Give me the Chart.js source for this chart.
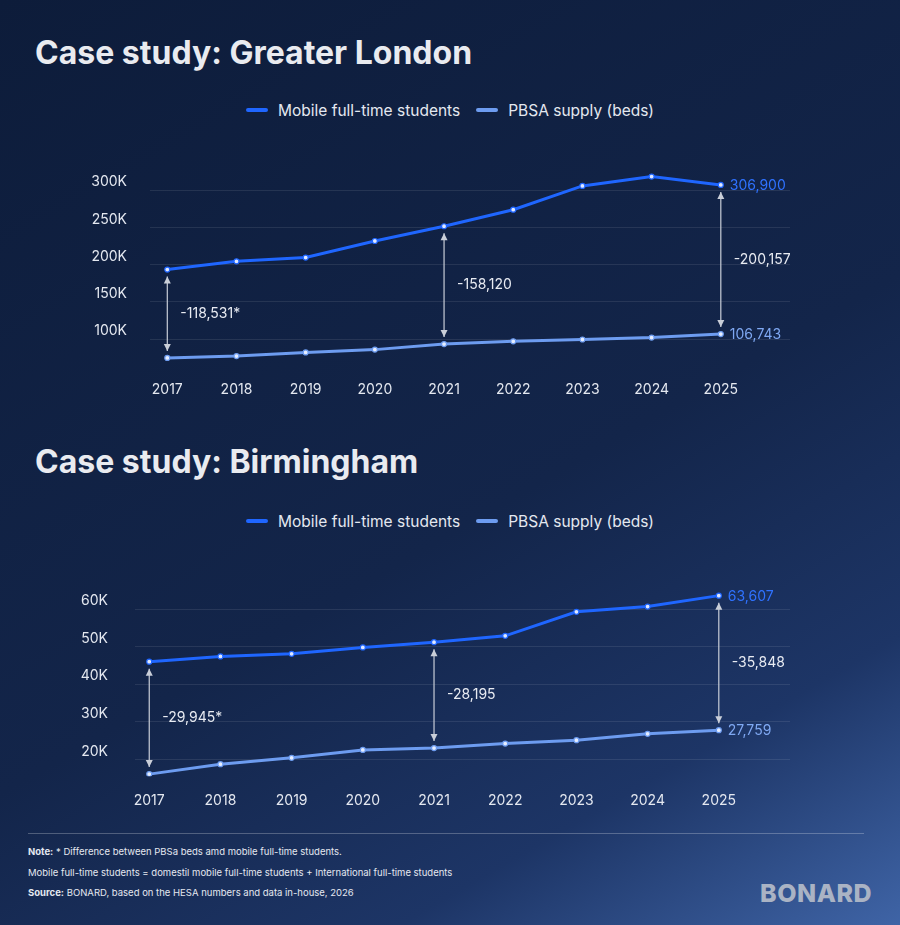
<!DOCTYPE html>
<html>
<head>
<meta charset="utf-8">
<script src="https://cdn.jsdelivr.net/npm/chart.js@4"></script>
<style>
  body { margin:0; width:900px; height:925px; overflow:hidden; font-family:Inter, sans-serif;
    background: linear-gradient(150deg, #0d1c3a 0%, #13254a 55%, #1d3566 80%, #3f64a6 100%); position:relative; color:#e8ebf2; }
  .title { position:absolute; left:35px; font-size:32px; font-weight:700; color:#e9ebf0; }
  .legend { position:absolute; left:0; width:900px; text-align:center; font-size:15.5px; color:#e4e8f0; }
  .legend span { display:inline-block; margin:0 8px; }
  .legend i { display:inline-block; width:22px; height:4px; border-radius:2px; vertical-align:middle; margin-right:10px; position:relative; top:-2px; }
  .box { position:absolute; left:0; width:900px; }
  .note { position:absolute; left:28px; font-size:9.5px; color:#e4e8f0; }
  hr { position:absolute; left:28px; width:836px; top:833px; border:0; border-top:1px solid rgba(255,255,255,0.25); margin:0; }
</style>
</head>
<body>
<div class="title" style="top:33px">Case study: Greater London</div>
<div class="legend" style="top:101px"><span><i style="background:#1f66ff"></i>Mobile full-time students</span><span><i style="background:#6d9cf0"></i>PBSA supply (beds)</span></div>
<div class="box" style="top:140px;height:270px"><canvas id="london"></canvas></div>

<div class="title" style="top:442px">Case study: Birmingham</div>
<div class="legend" style="top:512px"><span><i style="background:#1f66ff"></i>Mobile full-time students</span><span><i style="background:#6d9cf0"></i>PBSA supply (beds)</span></div>
<div class="box" style="top:555px;height:266px"><canvas id="birmingham"></canvas></div>

<hr>
<div class="note" style="top:846px"><b>Note:</b> * Difference between PBSa beds amd mobile full-time students.</div>
<div class="note" style="top:867px">Mobile full-time students = domestil mobile full-time students + International full-time students</div>
<div class="note" style="top:887px"><b>Source:</b> BONARD, based on the HESA numbers and data in-house, 2026</div>
<div style="position:absolute;right:28px;top:878px;font-size:25px;font-weight:800;color:#aab3c4;letter-spacing:0.5px">BONARD</div>

<script>
var years = [2017, 2018, 2019, 2020, 2021, 2022, 2023, 2024, 2025];

var londonStudents = [193331, 204400, 209400, 231600, 251400, 273600, 305500, 318000, 306900];
var londonBeds = [74800, 77300, 82200, 85900, 93300, 97000, 99500, 102000, 106743];
var londonTicks = [100000, 150000, 200000, 250000, 300000];
var londonGapYears = [2017, 2021, 2025];
var londonGapLabels = ['-118,531*', '-158,120', '-200,157'];
var londonEndLabels = ['306,900', '106,743'];

var brumStudents = [46000, 47400, 48100, 49800, 51200, 52900, 59300, 60700, 63607];
var brumBeds = [16055, 18700, 20400, 22500, 23005, 24200, 25100, 26800, 27759];
var brumTicks = [20000, 30000, 40000, 50000, 60000];
var brumGapYears = [2017, 2021, 2025];
var brumGapLabels = ['-29,945*', '-28,195', '-35,848'];
var brumEndLabels = ['63,607', '27,759'];

var BLUE = '#1f66ff';
var LIGHT = '#6d9cf0';

function pts(vals) {
  return vals.map(function(v, i) { return {x: years[i], y: v}; });
}

function annotate(gapYears, gapLabels, endLabels) {
  return {
    id: 'annot',
    afterDatasetsDraw: function(chart) {
      var ctx = chart.ctx, xs = chart.scales.x, ys = chart.scales.y;
      var top = chart.data.datasets[0].data, bot = chart.data.datasets[1].data;
      ctx.save();
      ctx.font = '14px Inter';
      ctx.textBaseline = 'middle';
      gapYears.forEach(function(yr, k) {
        var i = years.indexOf(yr);
        var x = xs.getPixelForValue(yr);
        var y1 = ys.getPixelForValue(top[i].y) + 7;
        var y2 = ys.getPixelForValue(bot[i].y) - 7;
        ctx.strokeStyle = '#c9ced8';
        ctx.fillStyle = '#c9ced8';
        ctx.lineWidth = 1.2;
        ctx.beginPath(); ctx.moveTo(x, y1); ctx.lineTo(x, y2); ctx.stroke();
        ctx.beginPath(); ctx.moveTo(x, y1); ctx.lineTo(x - 3.5, y1 + 7); ctx.lineTo(x + 3.5, y1 + 7); ctx.fill();
        ctx.beginPath(); ctx.moveTo(x, y2); ctx.lineTo(x - 3.5, y2 - 7); ctx.lineTo(x + 3.5, y2 - 7); ctx.fill();
        ctx.fillStyle = '#e8ebf2';
        ctx.fillText(gapLabels[k], x + 13, (y1 + y2) / 2);
      });
      var last = years.length - 1;
      var xl = xs.getPixelForValue(years[last]) + 9;
      ctx.fillStyle = '#2f72ff';
      ctx.fillText(endLabels[0], xl, ys.getPixelForValue(top[last].y) + 1);
      ctx.fillStyle = '#7fa8f2';
      ctx.fillText(endLabels[1], xl, ys.getPixelForValue(bot[last].y) + 1);
      ctx.restore();
    }
  };
}

function makeChart(id, students, beds, xmin, yMin, yMax, tickVals, axisW, pad, gapYears, gapLabels, endLabels) {
  new Chart(document.getElementById(id), {
    type: 'line',
    data: {
      datasets: [
        { data: pts(students), borderColor: BLUE, backgroundColor: '#dfe8ff', pointBorderColor: BLUE,
          borderWidth: 3, pointRadius: 2.5, pointBorderWidth: 1.2, tension: 0 },
        { data: pts(beds), borderColor: LIGHT, backgroundColor: '#e6eeff', pointBorderColor: LIGHT,
          borderWidth: 3, pointRadius: 2.5, pointBorderWidth: 1.2, tension: 0 }
      ]
    },
    plugins: [annotate(gapYears, gapLabels, endLabels)],
    options: {
      responsive: true,
      maintainAspectRatio: false,
      animation: false,
      layout: { padding: { top: 14, right: 110, bottom: 4, left: 0 } },
      plugins: { legend: { display: false }, tooltip: { enabled: false } },
      scales: {
        x: {
          type: 'linear', min: xmin, max: 2026,
          grid: { display: false }, border: { display: false },
          afterBuildTicks: function(s) { s.ticks = years.map(function(y) { return {value: y}; }); },
          ticks: { color: '#e4e8f0', font: { family: 'Inter', size: 14 }, padding: 8,
                   callback: function(v) { return String(v); } }
        },
        y: {
          type: 'linear', min: yMin, max: yMax,
          afterFit: function(s) { s.width = axisW; },
          afterBuildTicks: function(s) { s.ticks = tickVals.map(function(v) { return {value: v}; }); },
          grid: { color: 'rgba(255,255,255,0.09)', drawTicks: false },
          border: { display: false },
          ticks: { color: '#e4e8f0', font: { family: 'Inter', size: 14 }, padding: pad,
                   labelOffset: -8,
                   callback: function(v) { return (v / 1000) + 'K'; } }
        }
      }
    }
  });
}

makeChart('london', londonStudents, londonBeds, 2016.75, 65000, 325000, londonTicks, 150, 23, londonGapYears, londonGapLabels, londonEndLabels);
makeChart('birmingham', brumStudents, brumBeds, 2016.8, 15500, 65000, brumTicks, 135, 27, brumGapYears, brumGapLabels, brumEndLabels);
</script>
</body>
</html>
